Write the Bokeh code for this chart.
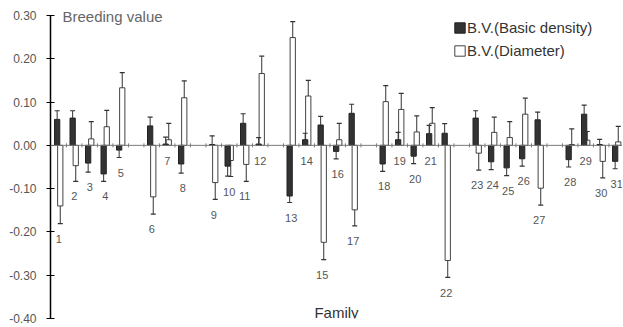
from bokeh.plotting import figure
from bokeh.models import (Span, Label, Legend, LegendItem, FixedTicker,
                          PrintfTickFormatter, Range1d)
from bokeh.embed import file_html
from bokeh.resources import INLINE

# ---------------- data ----------------
families = list(range(1, 32))
group_sizes = [5, 3, 4, 5, 5, 5, 4]  # families are shown in groups separated by a blank slot

bd = [0.060, 0.063, -0.041, -0.066, -0.011, 0.045, 0.003, -0.043, 0.002, -0.048,
      0.051, 0.003, -0.117, 0.013, 0.047, -0.014, 0.074, -0.043, 0.013, -0.025,
      0.027, 0.028, 0.063, -0.038, -0.052, -0.031, 0.059, -0.033, 0.072, 0.002,
      -0.037]
bd_err = [0.020, 0.017, 0.021, 0.017, 0.017, 0.020, 0.016, 0.021, 0.020, 0.023,
          0.022, 0.015, 0.015, 0.015, 0.020, 0.017, 0.021, 0.017, 0.017, 0.017,
          0.019, 0.022, 0.017, 0.018, 0.018, 0.017, 0.018, 0.017, 0.021, 0.012,
          0.017]
dia = [-0.140, -0.047, 0.015, 0.043, 0.133, -0.119, 0.013, 0.110, -0.086, -0.035,
       -0.044, 0.166, 0.249, 0.114, -0.224, 0.013, -0.149, 0.101, 0.083, 0.031,
       0.051, -0.266, -0.018, 0.030, 0.018, 0.072, -0.099, 0.002, 0.012, -0.037,
       0.008]
dia_err = [0.041, 0.036, 0.040, 0.038, 0.035, 0.040, 0.038, 0.039, 0.039, 0.037,
           0.039, 0.040, 0.037, 0.036, 0.040, 0.038, 0.037, 0.037, 0.037, 0.037,
           0.036, 0.039, 0.039, 0.035, 0.037, 0.037, 0.039, 0.036, 0.020, 0.038,
           0.036]
y_ticks = [-0.40, -0.30, -0.20, -0.10, 0.00, 0.10, 0.20, 0.30]

# ---------------- layout helpers ----------------
slots = []
idx = 0
for g, n in enumerate(group_sizes):
    for _ in range(n):
        slots.append(idx + g)
        idx += 1
n_slots = slots[-1] + 1

OFF = 0.10
BW = 0.34
x_bd = [s - OFF for s in slots]
x_dia = [s + OFF for s in slots]

FONT = "Liberation Sans"
Y_MIN, Y_MAX = y_ticks[0], y_ticks[-1]
PX_PER_UNIT = 303 / (Y_MAX - Y_MIN)

p = figure(width=622, height=326, output_backend="svg", toolbar_location=None,
           x_axis_location=None, min_border_left=50, min_border_right=0,
           min_border_top=0, min_border_bottom=8)
p.x_range = Range1d(-0.529, -0.529 + 572 / 15.5)
p.y_range = Range1d(Y_MIN, Y_MAX + 15 / PX_PER_UNIT)
p.outline_line_color = None
p.xgrid.visible = False
p.ygrid.visible = False
p.background_fill_color = "white"

# zero line
p.add_layout(Span(location=0, dimension="width", line_color="#7a7a7a", line_width=1))
bounds = [k + 0.5 for k in range(n_slots)]
p.scatter(bounds, [0] * len(bounds), marker="dash", angle=1.5708, size=4,
          line_color="#7a7a7a", line_width=1)

# bars (diameter drawn first, density on top)
r_dia = p.vbar(x=x_dia, top=dia, bottom=0, width=BW, fill_color="white",
               line_color="#444444", line_width=1)
r_bd = p.vbar(x=x_bd, top=bd, bottom=0, width=BW, fill_color="#333333",
              line_color="#222222", line_width=1)

# one-sided error bars
def err_bars(xs, vals, errs):
    tips = [v + e if v >= 0 else v - e for v, e in zip(vals, errs)]
    p.segment(x0=xs, y0=vals, x1=xs, y1=tips, line_color="#333333", line_width=1)
    p.scatter(xs, tips, marker="dash", size=5, line_color="#333333", line_width=1.2)

err_bars(x_dia, dia, dia_err)
err_bars(x_bd, bd, bd_err)

# family labels below the lowest point of each family
lab_y = []
for v1, e1, v2, e2 in zip(bd, bd_err, dia, dia_err):
    low = min(0, v1 - e1 if v1 < 0 else 0, v2 - e2 if v2 < 0 else 0)
    lab_y.append(low - 0.035)
p.text(x=slots, y=lab_y, text=[str(f) for f in families], text_align="center",
       text_baseline="middle", text_font_size="11px", text_color="#555555",
       text_font={"value": FONT})

# axis
ax = p.yaxis[0]
ax.ticker = FixedTicker(ticks=y_ticks)
ax.bounds = (Y_MIN, Y_MAX)
ax.formatter = PrintfTickFormatter(format="%.2f")
ax.axis_line_color = "black"
ax.axis_line_width = 1.5
ax.major_tick_line_color = "black"
ax.major_tick_line_width = 1.2
ax.major_tick_in = 4
ax.major_tick_out = 4
ax.minor_tick_line_color = None
ax.major_label_text_font = FONT
ax.major_label_text_font_size = "12px"
ax.major_label_text_color = "#555555"
ax.major_label_standoff = 10

# texts
p.add_layout(Label(x=0.245, y=0.298, text="Breeding value", text_font=FONT,
                   text_font_size="15px", text_color="#666666",
                   text_baseline="middle", text_align="left"))
x_mid = (p.x_range.start + p.x_range.end) / 2
p.add_layout(Label(x=x_mid, y=-0.386, text="Family", text_font=FONT,
                   text_font_size="15px", text_color="#333333",
                   text_baseline="middle", text_align="center"))

legend = Legend(items=[LegendItem(label="B.V.(Basic density)", renderers=[r_bd]),
                       LegendItem(label="B.V.(Diameter)", renderers=[r_dia])],
                location=(403, 259), border_line_color=None,
                background_fill_alpha=0, padding=0, margin=0, spacing=6,
                glyph_width=13, glyph_height=13, label_height=13,
                label_standoff=1, label_text_font=FONT,
                label_text_font_size="15px", label_text_color="#333333")
p.add_layout(legend)

open("out.html", "w").write(file_html(p, INLINE))
